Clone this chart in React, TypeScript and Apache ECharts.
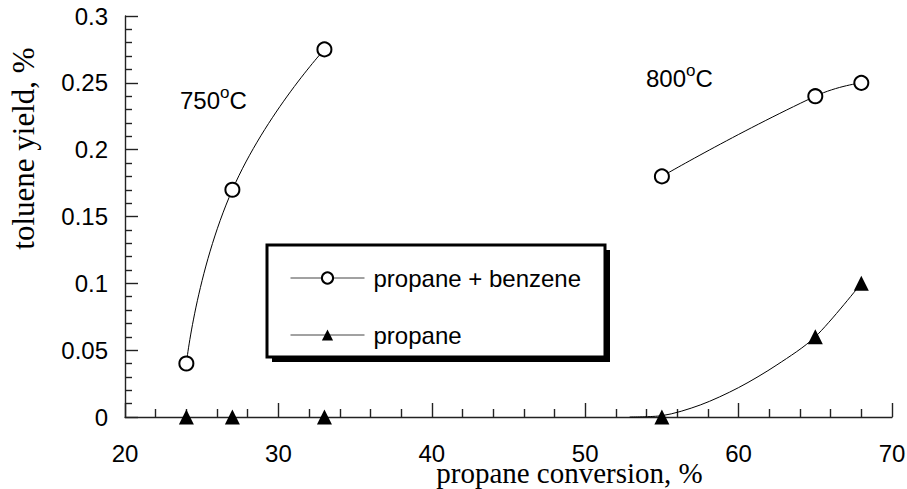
import React, { useEffect, useRef } from "react";
import * as echarts from "echarts";

const xTicks = [20, 30, 40, 50, 60, 70];
const yTicks = [0, 0.05, 0.1, 0.15, 0.2, 0.25, 0.3];
const benzene750: [number, number][] = [[24, 0.04], [27, 0.17], [33, 0.275]];
const benzene800: [number, number][] = [[55, 0.18], [65, 0.24], [68, 0.25]];
const propane750: [number, number][] = [[24, 0], [27, 0], [33, 0]];
const propane800Markers: [number, number][] = [[55, 0], [65, 0.06], [68, 0.1]];
const propane800Curve: [number, number][] = [[52.9, 0], [55, 0.001], [57.5, 0.009], [60, 0.022], [62.5, 0.039], [65, 0.06], [68, 0.1]];
const tempLabels = ["750", "800"];

const SANS = "Liberation Sans, Arial, sans-serif";
const SERIF = "Liberation Serif, Times New Roman, serif";

export default function App() {
  const ref = useRef<HTMLDivElement>(null);
  useEffect(() => {
    document.body.style.margin = "0";
    const chart = echarts.init(ref.current!, null, { renderer: "svg" });
    const axisCommon = {
      axisLine: { show: true, lineStyle: { color: "#222", width: 1.4 } },
      splitLine: { show: false },
      axisTick: { show: true, inside: true, lineStyle: { color: "#222", width: 1.4 } },
      minorTick: { show: true, splitNumber: 5, lineStyle: { color: "#222", width: 1.4 } },
      minorSplitLine: { show: false },
    };
    const sup = { fontSize: 17, fontFamily: SANS, verticalAlign: "top", padding: [0, 0, 15, 0] };
    chart.setOption({
      animation: false,
      backgroundColor: "#fff",
      grid: { left: 125, right: 15, top: 16, bottom: 72, containLabel: false, outerBoundsMode: "none" },
      xAxis: {
        type: "value",
        min: xTicks[0],
        max: xTicks[xTicks.length - 1],
        interval: 10,
        ...axisCommon,
        axisTick: { ...axisCommon.axisTick, length: 14 },
        minorTick: { ...axisCommon.minorTick, length: 8 },
        axisLabel: { color: "#000", fontFamily: SANS, fontSize: 24, margin: 24 },
        name: "propane conversion, %",
        nameLocation: "middle",
        nameGap: 41,
        nameMoveOverlap: false,
        nameTextStyle: { color: "#000", fontFamily: SERIF, fontSize: 29, padding: [0, 0, 0, 122] },
      },
      yAxis: {
        type: "value",
        min: yTicks[0],
        max: yTicks[yTicks.length - 1],
        interval: 0.05,
        ...axisCommon,
        axisTick: { ...axisCommon.axisTick, length: 13 },
        minorTick: { ...axisCommon.minorTick, length: 7 },
        axisLabel: { color: "#000", fontFamily: SANS, fontSize: 24, margin: 17 },
        name: "toluene yield, %",
        nameLocation: "middle",
        nameGap: 86,
        nameMoveOverlap: false,
        nameTextStyle: { color: "#000", fontFamily: SERIF, fontSize: 31, padding: [0, 0, 0, 136] },
      },
      legend: {
        orient: "vertical",
        left: 285,
        top: 261,
        itemWidth: 74,
        itemHeight: 14,
        itemGap: 33,
        data: ["propane + benzene", "propane"],
        textStyle: { color: "#000", fontFamily: SANS, fontSize: 24, padding: [0, 0, 0, 4] },
        lineStyle: { color: "#444", width: 1, opacity: 1 },
        selectedMode: false,
      },
      graphic: [
        { type: "rect", z: 0, shape: { x: 272, y: 250, width: 338, height: 112 }, style: { fill: "#000" } },
        { type: "rect", z: 1, shape: { x: 267, y: 245, width: 338, height: 112 }, style: { fill: "#fff", stroke: "#000", lineWidth: 3 } },
        {
          type: "text", z: 5, left: 180, top: 84,
          style: { text: tempLabels[0] + "{sup|o}C", fontFamily: SANS, fontSize: 24, fill: "#000", rich: { sup } },
        },
        {
          type: "text", z: 5, left: 646, top: 62,
          style: { text: tempLabels[1] + "{sup|o}C", fontFamily: SANS, fontSize: 24, fill: "#000", rich: { sup } },
        },
      ],
      series: [
        {
          name: "propane + benzene",
          type: "line",
          data: benzene750,
          smooth: true,
          symbol: "emptyCircle",
          symbolSize: 14,
          itemStyle: { color: "#000", borderWidth: 1 },
          lineStyle: { color: "#000", width: 1 },
          clip: false,
          z: 3,
        },
        {
          name: "propane + benzene",
          type: "line",
          data: benzene800,
          smooth: true,
          symbol: "emptyCircle",
          symbolSize: 14,
          itemStyle: { color: "#000", borderWidth: 1 },
          lineStyle: { color: "#000", width: 1 },
          clip: false,
          z: 3,
        },
        {
          name: "propane",
          type: "line",
          data: propane800Markers,
          symbol: "triangle",
          symbolSize: 15,
          itemStyle: { color: "#000", opacity: 1 },
          lineStyle: { color: "#000", width: 1, opacity: 0 },
          clip: false,
          z: 4,
        },
        {
          name: "propane fit",
          type: "line",
          data: propane800Curve,
          smooth: 0.3,
          showSymbol: false,
          symbol: "none",
          lineStyle: { color: "#000", width: 1 },
          clip: false,
          z: 3,
        },
        {
          name: "propane 750",
          type: "scatter",
          data: propane750,
          symbol: "triangle",
          symbolSize: 15,
          itemStyle: { color: "#000", opacity: 1 },
          clip: false,
          z: 4,
        },
      ],
    });
    return () => chart.dispose();
  }, []);
  return <div ref={ref} style={{ width: 907, height: 489 }} />;
}
